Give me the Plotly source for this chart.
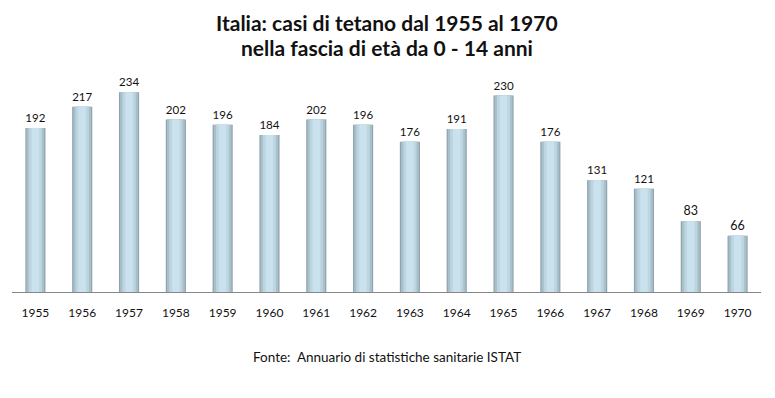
import plotly.graph_objects as go

years = ["1955", "1956", "1957", "1958", "1959", "1960", "1961", "1962",
         "1963", "1964", "1965", "1966", "1967", "1968", "1969", "1970"]
cases = [192, 217, 234, 202, 196, 184, 202, 196, 176, 191, 230, 176, 131, 121, 83, 66]

title_line1 = "Italia: casi di tetano dal 1955 al 1970"
title_line2 = "nella fascia di età da 0 - 14 anni"
source_text = "Fonte:  Annuario di statistiche sanitarie ISTAT"

FONT = "Lato"

fig = go.Figure()
layers = [
    (0.43, "#8ea3ad", True),
    (0.38, "#a9c0cb", False),
    (0.28, "#bcd5e1", False),
    (0.16, "#c9e2ee", False),
]
for w, col, show_text in layers:
    fig.add_trace(go.Bar(
        x=years, y=cases, width=w,
        marker=dict(color=col, line=dict(width=0)),
        text=[str(v) for v in cases] if show_text else None,
        textposition="outside" if show_text else "none",
        textfont=dict(family=FONT, size=12.5, color="#111111"),
        cliponaxis=False,
        hoverinfo="x+y",
        showlegend=False,
    ))

PT = 70
PH = 222


def py(ypix):
    return (398 - 106 - ypix) / PH


fig.update_layout(
    width=775, height=398,
    barmode="overlay",
    paper_bgcolor="white", plot_bgcolor="white",
    margin=dict(l=12, r=14, t=PT, b=106),
    xaxis=dict(type="category", showline=True, linecolor="#868686", linewidth=1,
               ticks="", showgrid=False, tickfont=dict(family=FONT, size=12, color="#111111"),
               ticklabelstandoff=10),
    yaxis=dict(visible=False, range=[0, 260]),
    annotations=[
        dict(text=title_line1, xref="paper", yref="paper", x=0.5, y=py(22),
             xanchor="center", yanchor="middle", showarrow=False,
             font=dict(family=FONT, size=21, color="#111111", weight="bold")),
        dict(text=title_line2, xref="paper", yref="paper", x=0.5, y=py(48),
             xanchor="center", yanchor="middle", showarrow=False,
             font=dict(family=FONT, size=21, color="#111111", weight="bold")),
        dict(text=source_text, xref="paper", yref="paper", x=0.5, y=py(357),
             xanchor="center", yanchor="middle", showarrow=False,
             font=dict(family=FONT, size=13.5, color="#111111")),
    ],
)

fig.write_html("out.html", config={"displayModeBar": False},
               post_script="document.body.style.margin='0';")
